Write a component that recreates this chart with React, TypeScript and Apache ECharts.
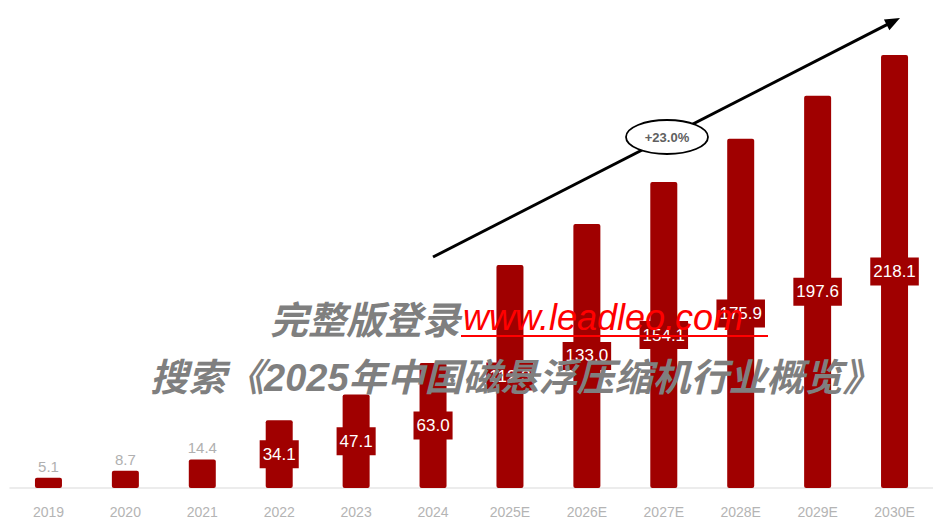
import React, { useEffect, useRef } from "react";
import * as echarts from "echarts";

const categories = ["2019", "2020", "2021", "2022", "2023", "2024", "2025E", "2026E", "2027E", "2028E", "2029E", "2030E"];
const values = [5.1, 8.7, 14.4, 34.1, 47.1, 63.0, 112.3, 133.0, 154.1, 175.9, 197.6, 218.1];
const cagrText = "+23.0%";
const watermark1 = "完整版登录";
const watermarkUrl = "www.leadleo.com";
const watermark2 = "搜索《2025年中国磁悬浮压缩机行业概览》";

const BAR = "#a00000";

export default function App() {
  const ref = useRef<HTMLDivElement>(null);
  useEffect(() => {
    if (!ref.current) return;
    const chart = echarts.init(ref.current, null, { renderer: "svg" });
    const data = values.map((v, i) => ({
      value: v,
      label:
        i < 3
          ? { show: true, position: "top", distance: 4, color: "#b0b0b0", fontSize: 15, formatter: (p: any) => p.value.toFixed(1) }
          : {
              show: true,
              position: "inside",
              color: "#ffffff",
              fontSize: 17,
              backgroundColor: BAR,
              padding: [6, 3, 5, 3],
              formatter: (p: any) => p.value.toFixed(1),
            },
    }));
    const dx = 900 - 433, dy = 18 - 257;
    const len = Math.sqrt(dx * dx + dy * dy);
    const ux = dx / len, uy = dy / len;
    const hl = 15, hw = 6;
    const bx = 900 - ux * hl, by = 18 - uy * hl;
    chart.setOption({
      animation: false,
      backgroundColor: "#ffffff",
      textStyle: { fontFamily: "Liberation Sans, Arial, Noto Sans CJK SC, sans-serif" },
      grid: { left: 10, width: 930, top: 55, bottom: 33, containLabel: false },
      xAxis: {
        type: "category",
        data: categories,
        axisLine: { show: true, lineStyle: { color: "#e6e6e6", width: 1.5 } },
        axisTick: { show: false },
        axisLabel: { color: "#b4b4b4", fontSize: 14, margin: 17 },
      },
      yAxis: { type: "value", min: 0, max: "dataMax", show: false, splitLine: { show: false } },
      series: [
        {
          type: "bar",
          data,
          barWidth: 27,
          itemStyle: { color: BAR, borderRadius: 2 },
        },
      ],
      graphic: [
        {
          type: "line",
          shape: { x1: 433, y1: 257, x2: bx + ux * 2, y2: by + uy * 2 },
          style: { stroke: "#000", lineWidth: 3 },
          z: 50,
        },
        {
          type: "polygon",
          shape: {
            points: [
              [900, 18],
              [bx + uy * hw, by - ux * hw],
              [bx - uy * hw, by + ux * hw],
            ],
          },
          style: { fill: "#000" },
          z: 50,
        },
        {
          type: "ellipse",
          shape: { cx: 667, cy: 137, rx: 41, ry: 17 },
          style: { fill: "#ffffff", stroke: "#000", lineWidth: 1.8 },
          z: 51,
        },
        {
          type: "text",
          x: 667,
          y: 137,
          style: { text: cagrText, fill: "#606060", fontSize: 13, fontWeight: "bold", align: "center", verticalAlign: "middle", fontFamily: "Liberation Sans, Arial, sans-serif" },
          z: 52,
        },
        {
          type: "text",
          x: 270,
          y: 317,
          style: { text: watermark1, fill: "#7f7f7f", fontSize: 38, fontStyle: "italic", fontWeight: "bold", verticalAlign: "middle", fontFamily: "Noto Sans CJK SC, sans-serif" },
          z: 60,
        },
        {
          type: "text",
          x: 463,
          y: 317,
          style: { text: watermarkUrl, fill: "#ff0000", fontSize: 36, fontStyle: "italic", verticalAlign: "middle", fontFamily: "Liberation Sans, Arial, sans-serif" },
          z: 60,
        },
        {
          type: "line",
          shape: { x1: 461, y1: 336, x2: 768, y2: 336 },
          style: { stroke: "#ff0000", lineWidth: 2 },
          z: 60,
        },
        {
          type: "text",
          x: 150,
          y: 378,
          style: { text: watermark2, fill: "#7f7f7f", fontSize: 38, fontStyle: "italic", fontWeight: "bold", verticalAlign: "middle", fontFamily: "Liberation Sans, Noto Sans CJK SC, sans-serif" },
          z: 60,
        },
      ],
    });
    return () => chart.dispose();
  }, []);
  return <div ref={ref} style={{ position: "absolute", left: 0, top: 0, width: 933, height: 521 }} />;
}
